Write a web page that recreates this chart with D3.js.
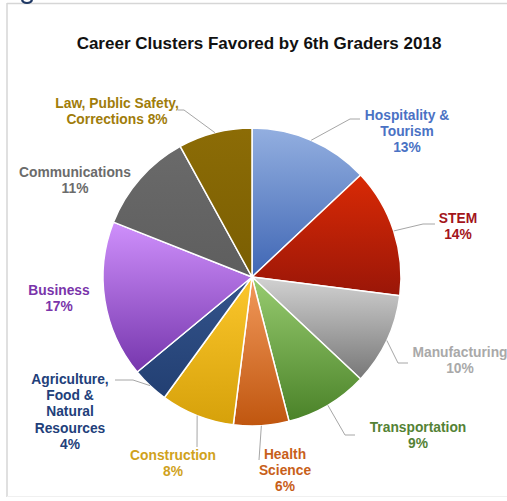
<!DOCTYPE html>
<html>
<head>
<meta charset="utf-8">
<script src="https://cdn.jsdelivr.net/npm/d3@7"></script>
<style>
  html, body { margin: 0; padding: 0; background: #fff; }
  svg { display: block; }
</style>
</head>
<body>
<div id="chart"></div>
<script>
// Career cluster shares (percent), clockwise from 12 o'clock
const clusters = ["Hospitality & Tourism", "STEM", "Manufacturing", "Transportation",
  "Health Science", "Construction", "Agriculture, Food & Natural Resources",
  "Business", "Communications", "Law, Public Safety, Corrections"];
const shares = [13, 14, 10, 9, 6, 8, 4, 17, 11, 8];

// Label text lines for each cluster
const labelLines = [
  ["Hospitality &", "Tourism", "13%"],
  ["STEM", "14%"],
  ["Manufacturing", "10%"],
  ["Transportation", "9%"],
  ["Health", "Science", "6%"],
  ["Construction", "8%"],
  ["Agriculture,", "Food &", "Natural", "Resources", "4%"],
  ["Business", "17%"],
  ["Communications", "11%"],
  ["Law, Public Safety,", "Corrections 8%"]
];

// Slice gradient stops (top, bottom) and label colours
const sliceTop = ["#93afe0", "#d92a05", "#d2d2d2", "#98cc70", "#f29a5c", "#fcc72c", "#34548c", "#cf90fc", "#6a6a6a", "#8c6c06"];
const sliceBottom = ["#3f66b4", "#9a1608", "#777777", "#4a8228", "#c0560f", "#d6a10a", "#223f72", "#7636ad", "#5e5e5e", "#7a5e02"];
const labelColors = ["#4a72c4", "#a3141a", "#a9a9a9", "#548235", "#c8601a", "#d0a21c", "#22407a", "#7a34aa", "#6b6b6b", "#a07c0a"];

const W = 507, H = 501;
const cx = 252, cy = 277, R = 149;

// Label layout: text centre x, first-line y, and leader elbow/end points
const labelLayout = [
  { x: 407, y: 120, leader: [[350, 119], [360, 119]] },
  { x: 458, y: 223, leader: [[423, 224], [435, 224]] },
  { x: 460, y: 357, leader: [[398, 363], [408, 363]] },
  { x: 418, y: 432, leader: [[345, 435], [355, 435]] },
  { x: 285, y: 459, leader: [[259, 460]] },
  { x: 173, y: 460, leader: [[197, 447]] },
  { x: 70, y: 384, leader: [[133, 380], [115, 380]] },
  { x: 59, y: 295, leader: null },
  { x: 75, y: 177, leader: null },
  { x: 117, y: 108, leader: [[184, 110], [178, 110]] }
];

const svg = d3.select("#chart").append("svg")
  .attr("width", W).attr("height", H);

// Page frame
svg.append("line").attr("x1", 7).attr("y1", 3.5).attr("x2", W).attr("y2", 3.5)
  .attr("stroke", "#d6d6d6").attr("stroke-width", 1.5);
svg.append("line").attr("x1", 7).attr("y1", 3).attr("x2", 7).attr("y2", 497)
  .attr("stroke", "#d6d6d6").attr("stroke-width", 1.5);
svg.append("line").attr("x1", 7).attr("y1", 496.5).attr("x2", W).attr("y2", 496.5)
  .attr("stroke", "#f0f0f0").attr("stroke-width", 1);
// Tail of the heading glyph above the frame
svg.append("path")
  .attr("d", "M22,0 Q23,3 27,3 Q31,3 32,0")
  .attr("fill", "none").attr("stroke", "#1f3864").attr("stroke-width", 2.2);

// Title
svg.append("text")
  .attr("x", 259).attr("y", 49)
  .attr("text-anchor", "middle")
  .attr("font-family", "Liberation Sans, Arial, sans-serif")
  .attr("font-weight", "bold").attr("font-size", 17)
  .attr("fill", "#111")
  .text("Career Clusters Favored by 6th Graders 2018");

// Gradients
const defs = svg.append("defs");
clusters.forEach((c, i) => {
  const g = defs.append("linearGradient").attr("id", "grad" + i)
    .attr("x1", 0).attr("y1", 0).attr("x2", 0).attr("y2", 1);
  g.append("stop").attr("offset", "0%").attr("stop-color", sliceTop[i]);
  g.append("stop").attr("offset", "100%").attr("stop-color", sliceBottom[i]);
});

const data = clusters.map((c, i) => ({ name: c, value: shares[i], i }));
const pie = d3.pie().value(d => d.value).sort(null);
const arc = d3.arc().innerRadius(0).outerRadius(R);
const arcs = pie(data);

const g = svg.append("g").attr("transform", `translate(${cx},${cy})`);
g.selectAll("path").data(arcs).join("path")
  .attr("d", arc)
  .attr("fill", d => `url(#grad${d.data.i})`)
  .attr("stroke", "#fff").attr("stroke-width", 1.5)
  .attr("stroke-linejoin", "round");

// Leader lines from the slice edge at its mid-angle
arcs.forEach(a => {
  const lay = labelLayout[a.data.i];
  if (!lay.leader) return;
  const mid = (a.startAngle + a.endAngle) / 2;
  const start = [cx + R * Math.sin(mid), cy - R * Math.cos(mid)];
  svg.append("path")
    .attr("d", d3.line()([start, ...lay.leader]))
    .attr("fill", "none").attr("stroke", "#a6a6a6").attr("stroke-width", 1);
});

// Labels
arcs.forEach(a => {
  const i = a.data.i, lay = labelLayout[i];
  const t = svg.append("text")
    .attr("text-anchor", "middle")
    .attr("font-family", "Liberation Sans, Arial, sans-serif")
    .attr("font-weight", "bold").attr("font-size", 13.8)
    .attr("fill", labelColors[i]);
  labelLines[i].forEach((line, k) => {
    t.append("tspan").attr("x", lay.x).attr("y", lay.y + k * 16.2).text(line);
  });
});
</script>
</body>
</html>
